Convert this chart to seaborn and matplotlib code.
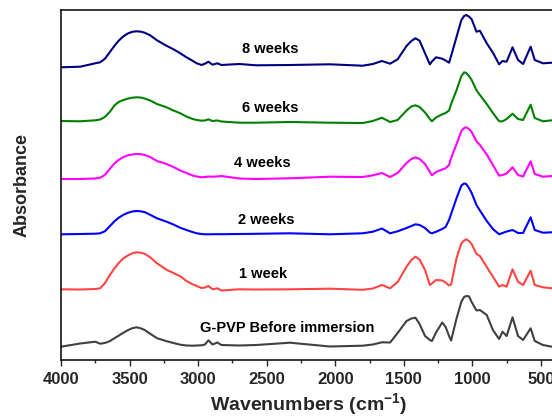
import numpy as np
import pandas as pd
import matplotlib
matplotlib.use("Agg")
import matplotlib.pyplot as plt
import seaborn as sns

# FTIR spectra of G-PVP before and after immersion (stacked, arbitrary offsets)
wavenumber = [4000, 3860, 3750,
              3715, 3680, 3645, 3610, 3580, 3545, 3510, 3480, 3450, 3420, 3390,
              3350, 3300, 3230, 3180, 3130, 3085, 3040, 3010,
              2975, 2950, 2925, 2895, 2860, 2830, 2700, 2575, 2330, 2040,
              1800, 1725, 1660, 1600, 1545, 1480, 1445,
              1415, 1385, 1345, 1310, 1295, 1265, 1220, 1195, 1170, 1155, 1115, 1080,
              1060, 1045, 1025,
              1005, 970, 945, 895, 850, 805, 780, 750, 707, 667, 630, 575, 545, 485, 420]

gpvp = [0, 0.032, 0.05,
        0.03, 0.037, 0.055, 0.085, 0.11, 0.14, 0.167, 0.185, 0.194, 0.185, 0.167,
        0.13, 0.085, 0.055, 0.037, 0.02, 0.012, 0.01, 0.012,
        0.014, 0.022, 0.064, 0.022, 0.042, 0.017, 0.012, 0.017, 0.04, 0.002,
        0.01, 0.022, 0.044, 0.042, 0.137, 0.257, 0.282,
        0.29, 0.227, 0.107, 0.067, 0.057, 0.142, 0.242, 0.197, 0.107, 0.062, 0.284, 0.45,
        0.497, 0.507, 0.504,
        0.447, 0.362, 0.367, 0.317, 0.167, 0.077, 0.15, 0.107, 0.294, 0.107, 0.067, 0.184, 0.057, 0.017, 0]

week1 = [0, -0.002, 0.003,
         0.01, 0.06, 0.14, 0.21, 0.262, 0.31, 0.34, 0.36, 0.37, 0.366, 0.355,
         0.32, 0.26, 0.195, 0.163, 0.13, 0.083, 0.05, 0.033,
         0.013, 0.018, 0.033, 0, 0.01, -0.012, 0, -0.002, 0, 0.006,
         -0.005, 0.008, 0.043, 0.01, 0.073, 0.226, 0.293,
         0.326, 0.298, 0.193, 0.043, 0.058, 0.093, 0.088, 0.068, 0.038, 0.048, 0.313, 0.46,
         0.488, 0.50, 0.483,
         0.453, 0.353, 0.333, 0.223, 0.126, 0.026, 0.043, 0.026, 0.20, 0.076, 0.043, 0.186, 0.043, 0.02, 0.01]

week2 = [0, 0.003, 0.006,
         0.01, 0.03, 0.08, 0.13, 0.165, 0.195, 0.216, 0.228, 0.233, 0.23, 0.222,
         0.195, 0.16, 0.126, 0.098, 0.065, 0.043, 0.022, 0.01,
         0.003, 0, 0, 0.001, 0.001, 0.001, 0.003, 0.005, 0.01, 0,
         0.01, 0.026, 0.058, 0.01, 0.03, 0.063, 0.083,
         0.10, 0.093, 0.063, 0.018, 0.01, 0.025, 0.053, 0.073, 0.143, 0.203, 0.363, 0.488,
         0.508, 0.503, 0.463,
         0.413, 0.293, 0.238, 0.133, 0.053, 0, 0.013, 0.028, 0.043, 0.013, 0.013, 0.17, 0.043, 0.016, 0.02]

week4 = [0, 0, 0.005,
         0.013, 0.04, 0.1, 0.155, 0.19, 0.22, 0.237, 0.245, 0.25, 0.249, 0.24,
         0.22, 0.18, 0.15, 0.12, 0.085, 0.06, 0.035, 0.025,
         0.017, 0.02, 0.025, 0.023, 0.025, 0.03, 0.005, 0, 0.007, 0.023,
         0.02, 0.037, 0.06, 0.02, 0.06, 0.16, 0.20,
         0.217, 0.20, 0.15, 0.07, 0.037, 0.07, 0.095, 0.107, 0.14, 0.21, 0.35, 0.48,
         0.51, 0.517, 0.50,
         0.47, 0.377, 0.34, 0.245, 0.14, 0.033, 0.04, 0.055, 0.117, 0.04, 0.025, 0.177, 0.05, 0.023, 0.03]

week6 = [0, -0.003, 0.007,
         0.015, 0.04, 0.09, 0.155, 0.19, 0.21, 0.225, 0.233, 0.237, 0.235, 0.225,
         0.205, 0.17, 0.137, 0.105, 0.077, 0.045, 0.02, 0.01,
         0.003, 0.005, 0.017, 0, 0.005, -0.005, -0.017, -0.017, -0.01, -0.017,
         -0.02, 0, 0.033, -0.01, 0.01, 0.105, 0.145,
         0.157, 0.14, 0.085, 0.02, -0.003, 0.035, 0.067, 0.08, 0.105, 0.17, 0.31, 0.45,
         0.487, 0.48, 0.45,
         0.41, 0.307, 0.26, 0.17, 0.08, -0.003, -0.003, 0.02, 0.073, 0.02, 0.01, 0.163, 0.03, -0.003, 0.007]

week8 = [0, 0.006, 0.04,
         0.05, 0.085, 0.15, 0.215, 0.265, 0.31, 0.34, 0.355, 0.36, 0.357, 0.346,
         0.32, 0.27, 0.215, 0.18, 0.14, 0.10, 0.065, 0.04,
         0.023, 0.036, 0.056, 0.026, 0.04, 0.023, 0.033, 0.02, 0.023, 0.03,
         0.016, 0.033, 0.063, 0.036, 0.08, 0.213, 0.263,
         0.29, 0.266, 0.14, 0.03, 0.058, 0.10, 0.086, 0.068, 0.046, 0.113, 0.306, 0.473,
         0.513, 0.523, 0.508,
         0.48, 0.356, 0.366, 0.24, 0.146, 0.03, 0.063, 0.056, 0.20, 0.073, 0.033, 0.206, 0.073, 0.04, 0.046]

series_names = ["G-PVP Before immersion", "1 week", "2 weeks", "4 weeks", "6 weeks", "8 weeks"]
series_values = [gpvp, week1, week2, week4, week6, week8]
offsets = [0.133, 0.707, 1.257, 1.81, 2.39, 2.927]
colors = ["#404040", "#ff4444", "#0000ff", "#ff00ff", "#008000", "#000080"]

# label anchor (wavenumber of left edge, absorbance)
label_x = [2987, 2703, 2710, 2737, 2681, 2683]
label_y = [0.32, 0.855, 1.395, 1.967, 2.525, 3.113]

frames = []
for name, vals, off in zip(series_names, series_values, offsets):
    frames.append(pd.DataFrame({
        "Wavenumber": wavenumber,
        "Absorbance": np.asarray(vals) + off,
        "Sample": name,
    }))
df = pd.concat(frames, ignore_index=True)

sns.set_theme(style="white")
plt.rcParams["font.family"] = ["Liberation Sans", "DejaVu Sans"]
plt.rcParams["mathtext.fontset"] = "custom"
plt.rcParams["mathtext.rm"] = "Liberation Sans:bold"
plt.rcParams["mathtext.bf"] = "Liberation Sans:bold"
plt.rcParams["mathtext.it"] = "Liberation Sans:bold"

fig = plt.figure(figsize=(5.52, 4.18), dpi=100)
ax = fig.add_axes([61 / 552, 58 / 418, 495 / 552, 350 / 418])

sns.lineplot(data=df, x="Wavenumber", y="Absorbance", hue="Sample",
             hue_order=series_names, palette=colors, estimator=None,
             linewidth=1.5, legend=False, ax=ax)
for ln in ax.get_lines():
    ln.set_solid_joinstyle("round")

for name, lx, ly in zip(series_names, label_x, label_y):
    ax.text(lx, ly, name, ha="left", va="center", fontsize=10.5,
            fontweight="bold", color="black")

ax.set_xlim(4000, 390)
ax.set_ylim(0, 3.5)
ax.set_yticks([])
ax.set_xticks([4000, 3500, 3000, 2500, 2000, 1500, 1000, 500])
ax.set_xticks(np.arange(3750, 400, -500), minor=True)
ax.tick_params(axis="x", which="major", direction="out", length=4.5, width=1.0,
               bottom=True, pad=4, labelsize=12)
ax.tick_params(axis="x", which="minor", direction="out", length=2.5, width=1.0,
               bottom=True)
for lab in ax.get_xticklabels():
    lab.set_fontweight("bold")

for sp in ax.spines.values():
    sp.set_color("black")
    sp.set_linewidth(1.1)

ax.set_xlabel(r"Wavenumbers (cm$^{-1}$)", fontsize=14, fontweight="bold", labelpad=3)
ax.set_ylabel("Absorbance", fontsize=13, fontweight="bold")
ax.yaxis.set_label_coords(-30 / 495, 0.5)

fig.savefig("out.png", dpi=100)
